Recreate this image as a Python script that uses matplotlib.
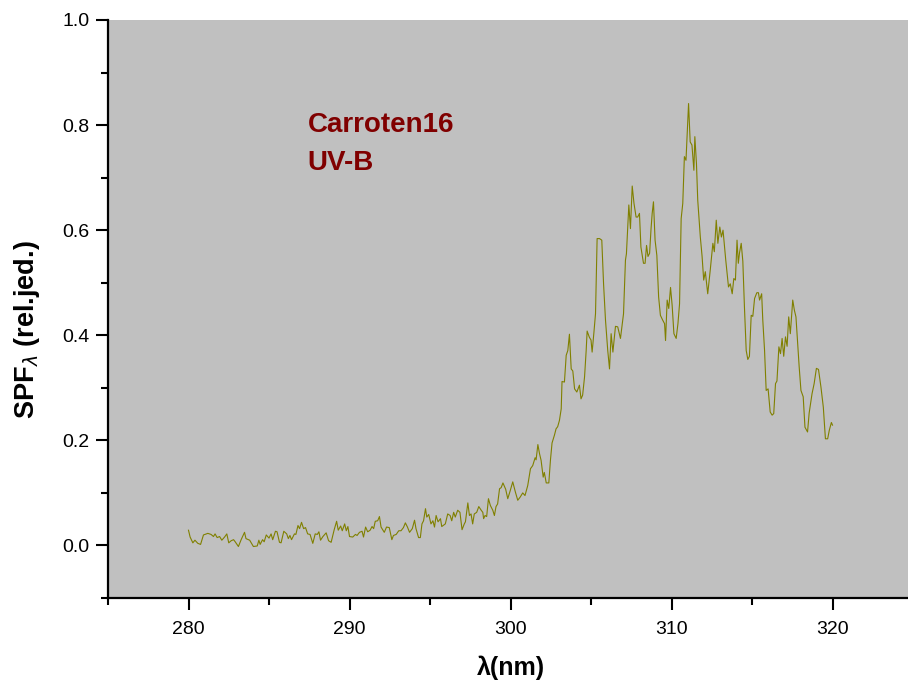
import matplotlib
matplotlib.use("Agg")
import matplotlib.pyplot as plt
from matplotlib.ticker import MultipleLocator

plt.rcParams['font.family'] = ['Liberation Sans', 'DejaVu Sans']

# wavelength (nm) and SPF values
wl = [280.0, 280.1, 280.27, 280.4, 280.58, 280.75, 280.93, 281.2, 281.4, 281.55,
      281.65, 281.78, 281.93, 282.07, 282.24, 282.38, 282.5, 282.65, 282.8, 282.9,
      283.1, 283.27, 283.48, 283.57, 283.8, 284.03, 284.27, 284.37, 284.45, 284.6,
      284.7, 284.83, 285.0, 285.13, 285.23, 285.4, 285.5, 285.65, 285.75, 285.92,
      286.1, 286.2, 286.3, 286.4, 286.58, 286.67, 286.8, 286.9, 287.02, 287.15,
      287.27, 287.4, 287.55, 287.72, 287.87, 288.0, 288.1, 288.2, 288.35, 288.55,
      288.7, 288.86, 289.05, 289.2, 289.3, 289.45, 289.55, 289.7, 289.8, 289.9,
      290.0, 290.2, 290.37, 290.47, 290.62, 290.78, 290.87, 291.0, 291.13, 291.28,
      291.4, 291.5, 291.6, 291.75, 291.86, 291.96, 292.16, 292.3, 292.47, 292.63,
      292.73, 292.9, 293.06, 293.2, 293.35, 293.47, 293.6, 293.73, 293.9, 294.04,
      294.13, 294.29, 294.4, 294.5, 294.6, 294.72, 294.8, 294.92, 295.06, 295.18,
      295.28, 295.38, 295.5, 295.65, 295.73, 295.95, 296.1, 296.25, 296.35, 296.47,
      296.57, 296.72, 296.86, 296.99, 297.13, 297.2, 297.35, 297.45, 297.55, 297.65,
      297.75, 297.9, 298.03, 298.18, 298.28, 298.33, 298.42, 298.52, 298.63, 298.75,
      298.9, 299.0, 299.1, 299.2, 299.32, 299.42, 299.53, 299.7, 299.83, 299.98,
      300.14, 300.3, 300.45, 300.6, 300.76, 300.9, 301.07, 301.24, 301.38, 301.53,
      301.59, 301.7, 301.8, 301.9, 302.03, 302.1, 302.22, 302.38, 302.48, 302.58,
      302.73, 302.83, 302.93, 303.04, 303.15, 303.2, 303.35, 303.46, 303.56, 303.66,
      303.77, 303.87, 303.98, 304.12, 304.28, 304.38, 304.48, 304.6, 304.7, 304.76,
      304.9, 305.0, 305.07, 305.18, 305.28, 305.38, 305.53, 305.67, 305.78, 305.9,
      306.04, 306.15, 306.25, 306.36, 306.52, 306.66, 306.83, 307.02, 307.14, 307.2,
      307.35, 307.45, 307.56, 307.67, 307.8, 307.9, 308.01, 308.1, 308.26, 308.36,
      308.45, 308.54, 308.64, 308.73, 308.8, 308.88, 308.98, 309.09, 309.2, 309.31,
      309.45, 309.57, 309.63, 309.73, 309.83, 309.94, 310.04, 310.15, 310.29, 310.4,
      310.5, 310.6, 310.7, 310.8, 310.9, 311.06, 311.16, 311.27, 311.39, 311.45,
      311.55, 311.63, 311.79, 311.9, 312.0, 312.1, 312.25, 312.4, 312.57, 312.66,
      312.78, 312.88, 313.0, 313.1, 313.2, 313.37, 313.54, 313.65, 313.77, 313.87,
      313.97, 314.07, 314.15, 314.22, 314.33, 314.43, 314.53, 314.64, 314.74, 314.84,
      314.95, 315.05, 315.16, 315.3, 315.4, 315.47, 315.6, 315.67, 315.78, 315.88,
      316.0, 316.13, 316.25, 316.35, 316.46, 316.55, 316.67, 316.77, 316.87, 316.97,
      317.08, 317.18, 317.28, 317.38, 317.53, 317.63, 317.73, 317.83, 317.93, 318.04,
      318.18, 318.29, 318.45, 318.55, 318.73, 318.86, 319.0, 319.13, 319.28, 319.43,
      319.56, 319.7, 319.8, 319.93, 320.0]

spf = [0.029, 0.016, 0.005, 0.010, 0.004, 0.002, 0.020, 0.023, 0.021, 0.017,
       0.022, 0.015, 0.017, 0.010, 0.016, 0.022, 0.005, 0.009, 0.011, 0.007,
       -0.002, 0.011, 0.025, 0.013, 0.010, -0.002, -0.001, 0.010, 0.002, 0.011,
       0.007, 0.020, 0.014, 0.022, 0.011, 0.027, 0.026, 0.006, 0.005, 0.027,
       0.022, 0.013, 0.019, 0.011, 0.022, 0.021, 0.038, 0.032, 0.044, 0.032,
       0.034, 0.022, 0.021, 0.004, 0.022, 0.021, 0.026, 0.010, 0.017, 0.024,
       0.009, 0.006, 0.030, 0.046, 0.029, 0.037, 0.028, 0.041, 0.028, 0.036,
       0.017, 0.016, 0.021, 0.019, 0.025, 0.027, 0.016, 0.035, 0.026, 0.029,
       0.036, 0.032, 0.046, 0.047, 0.055, 0.035, 0.025, 0.035, 0.034, 0.011,
       0.019, 0.021, 0.028, 0.028, 0.034, 0.043, 0.035, 0.025, 0.032, 0.048,
       0.032, 0.015, 0.015, 0.041, 0.047, 0.070, 0.054, 0.059, 0.041, 0.047,
       0.035, 0.057, 0.045, 0.051, 0.036, 0.041, 0.060, 0.057, 0.047, 0.063,
       0.054, 0.067, 0.063, 0.030, 0.041, 0.045, 0.081, 0.057, 0.060, 0.041,
       0.060, 0.063, 0.074, 0.067, 0.063, 0.051, 0.057, 0.055, 0.089, 0.076,
       0.067, 0.057, 0.074, 0.079, 0.108, 0.110, 0.119, 0.107, 0.089, 0.104,
       0.121, 0.102, 0.086, 0.092, 0.100, 0.095, 0.114, 0.146, 0.152, 0.167,
       0.163, 0.192, 0.175, 0.162, 0.130, 0.139, 0.119, 0.119, 0.162, 0.195,
       0.210, 0.222, 0.226, 0.238, 0.260, 0.312, 0.311, 0.362, 0.371, 0.402,
       0.336, 0.332, 0.298, 0.292, 0.305, 0.279, 0.286, 0.321, 0.371, 0.408,
       0.396, 0.391, 0.368, 0.405, 0.441, 0.584, 0.584, 0.581, 0.498, 0.429,
       0.371, 0.336, 0.403, 0.368, 0.417, 0.416, 0.394, 0.441, 0.543, 0.555,
       0.648, 0.603, 0.684, 0.651, 0.625, 0.625, 0.632, 0.568, 0.537, 0.537,
       0.571, 0.550, 0.556, 0.603, 0.632, 0.654, 0.581, 0.552, 0.473, 0.438,
       0.429, 0.422, 0.390, 0.467, 0.451, 0.491, 0.457, 0.403, 0.394, 0.422,
       0.460, 0.622, 0.651, 0.740, 0.733, 0.841, 0.768, 0.762, 0.714, 0.778,
       0.727, 0.657, 0.587, 0.550, 0.505, 0.521, 0.479, 0.522, 0.575, 0.559,
       0.619, 0.575, 0.606, 0.587, 0.600, 0.543, 0.492, 0.498, 0.479, 0.508,
       0.505, 0.581, 0.537, 0.556, 0.575, 0.541, 0.454, 0.371, 0.354, 0.360,
       0.438, 0.436, 0.470, 0.481, 0.481, 0.467, 0.479, 0.429, 0.371, 0.295,
       0.298, 0.254, 0.248, 0.251, 0.308, 0.313, 0.378, 0.365, 0.394, 0.360,
       0.397, 0.379, 0.435, 0.403, 0.467, 0.448, 0.435, 0.386, 0.340, 0.295,
       0.283, 0.225, 0.216, 0.252, 0.289, 0.308, 0.337, 0.335, 0.302, 0.263,
       0.203, 0.203, 0.219, 0.234, 0.229]

fig = plt.figure(figsize=(9.08, 6.89), dpi=100)
ax = fig.add_axes([108/908, 91/689, 805/908, 578/689])
ax.set_facecolor('#c0c0c0')

ax.plot(wl, spf, color='#808000', linewidth=0.8)

ax.set_xlim(275, 325)
ax.set_ylim(-0.1, 1.0)
ax.xaxis.set_major_locator(MultipleLocator(10))
ax.xaxis.set_minor_locator(MultipleLocator(5))
ax.yaxis.set_major_locator(MultipleLocator(0.2))
ax.yaxis.set_minor_locator(MultipleLocator(0.1))
ax.set_xticks([280, 290, 300, 310, 320])
ax.set_yticks([0.0, 0.2, 0.4, 0.6, 0.8, 1.0])
ax.set_yticklabels(['0.0', '0.2', '0.4', '0.6', '0.8', '1.0'])

for s in ['top', 'right']:
    ax.spines[s].set_visible(False)
for s in ['left', 'bottom']:
    ax.spines[s].set_linewidth(1.6)
ax.tick_params(which='major', direction='out', length=8.5, width=1.5, labelsize=14, pad=5)
ax.tick_params(axis='x', which='major', pad=8)
ax.tick_params(which='minor', direction='out', length=5, width=1.5)

ax.set_xlabel('λ(nm)', fontsize=18, fontweight='bold', labelpad=13)
ax.set_ylabel(r'SPF$_\lambda$ (rel.jed.)', fontsize=19.5, fontweight='bold')
ax.yaxis.set_label_coords(-0.082, 0.4645)

ax.text(287.4, 0.800, 'Carroten16', color='#800000', fontsize=20, fontweight='bold', va='center')
ax.text(287.4, 0.727, 'UV-B', color='#800000', fontsize=20, fontweight='bold', va='center')

plt.savefig('out.png', dpi=100)
